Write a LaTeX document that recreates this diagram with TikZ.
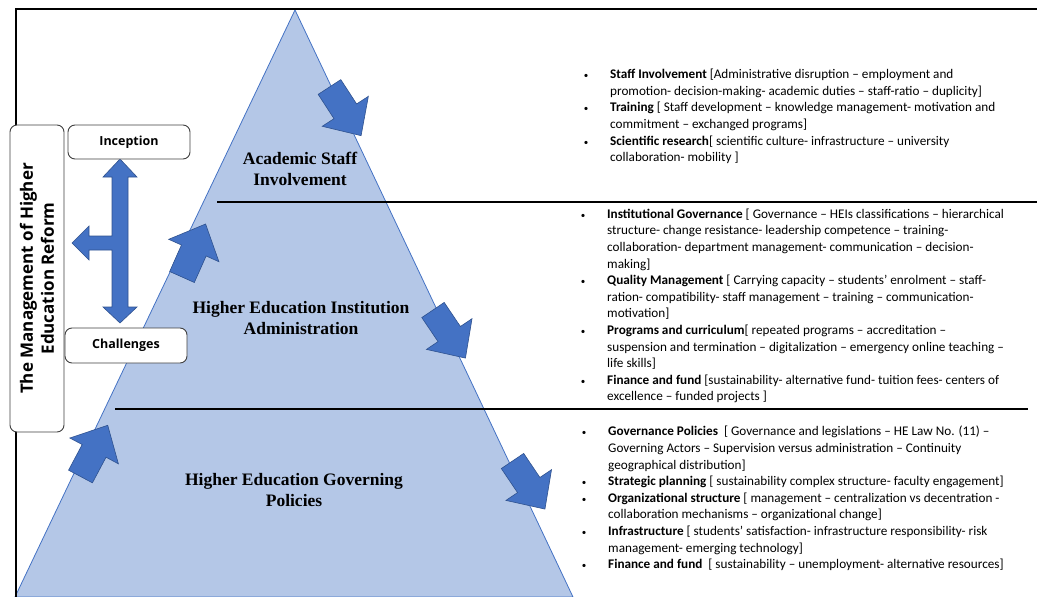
\documentclass[tikz,border=0pt]{standalone}
\usepackage{fontspec}
\setmainfont{Carlito}
\newfontfamily\layerfont{Liberation Serif}
\newfontfamily\boxfont{Open Sans}
\usepackage{tikz}
\usetikzlibrary{positioning}

\definecolor{layerfill}{HTML}{B4C7E7}
\definecolor{officeblue}{HTML}{4472C4}
\definecolor{arrowedge}{HTML}{2F528F}

\tikzstyle{frameline} = [line width=1.5pt, black]
\tikzstyle{divider} = [line width=1.4pt, black]
\tikzstyle{labelbox} = [rectangle, rounded corners=7pt, draw=black!75, line
width=0.9pt, fill=white, inner sep=0pt, text centered,
font=\boxfont\bfseries\fontsize{12.5}{15}\selectfont]
\tikzstyle{layer} = [align=center,
font=\layerfont\bfseries\fontsize{17.5}{21}\selectfont]
\tikzstyle{infotext} = [anchor=north west, inner sep=0pt,
font=\fontsize{13.2}{16.6}\selectfont]
\tikzstyle{bluefill} = [fill=officeblue, draw=arrowedge, line width=0.6pt]

\tikzset{
  blockarrow/.pic={
    \path[bluefill] (0,-13.5) -- (29,-13.5) -- (29,-27.5) -- (58,0)
      -- (29,27.5) -- (29,13.5) -- (0,13.5) -- cycle;
  }
}

\newcommand{\bul}{\makebox[24pt][l]{\makebox[0pt]{\fontsize{9}{9}\selectfont •}}}

\begin{document}
\begin{tikzpicture}[x=1pt, y=-1pt]
\useasboundingbox (0,0) rectangle (1037,597);

% the pyramid
\path[fill=layerfill, draw=officeblue, line width=0.8pt]
  (295,10) -- (573,597) -- (15,597) -- cycle;

\draw[frameline] (1037,9) -- (16,9) -- (16,597);
\draw[divider] (217,202) -- (1037,202);
\draw[divider] (115,409) -- (1028,409);

\node[layer] (topname) at (300,169) {Academic Staff\\Involvement};
\node[layer] (midname) at (301,318.5) {Higher Education Institution\\Administration};
\node[layer] (basename) at (294,490.5) {Higher Education Governing\\Policies};

% block arrows along the sides
\pic[rotate=-57] at (329.5,87) {blockarrow};
\pic[rotate=66] at (182,277) {blockarrow};
\pic[rotate=-56] at (433,310) {blockarrow};
\pic[rotate=62] at (80.5,476.5) {blockarrow};
\pic[rotate=-56] at (512.5,461) {blockarrow};

% three way arrow between the boxes
\path[bluefill] (120,159) -- (137,177) -- (128,177) -- (128,307) -- (137,307)
  -- (120,323) -- (103,307) -- (112,307) -- (112,250) -- (89,250) -- (89,260)
  -- (72,243) -- (89,226) -- (89,236) -- (112,236) -- (112,177) -- (103,177)
  -- cycle;

\node(reform)[labelbox, minimum width=307pt, minimum height=54pt, rotate=90,
  align=center, font=\boxfont\bfseries\fontsize{17}{21}\selectfont]
  at (37,278.5) {The Management of Higher\\Education Reform};
\node(inception)[labelbox, minimum width=122pt, minimum height=34pt]
  at (129,142) {Inception};
\node(challenges)[labelbox, minimum width=122pt, minimum height=35pt]
  at (126,345.5) {Challenges};

\node(staffinfo)[infotext] at (586,66.9) {%
\begin{tabular}{@{}l@{}l@{}}
\bul & \textbf{Staff Involvement} [Administrative disruption – employment and\\
 & promotion- decision-making- academic duties – staff-ratio – duplicity]\\
\bul & \textbf{Training} [ Staff development – knowledge management- motivation and\\
 & commitment – exchanged programs]\\
\bul & \textbf{Scientific research}[ scientific culture- infrastructure – university\\
 & collaboration- mobility ]
\end{tabular}};

\node(admininfo)[infotext] at (583,206.4) {%
\begin{tabular}{@{}l@{}l@{}}
\bul & \textbf{Institutional Governance} [ Governance – HEIs classifications – hierarchical\\
 & structure- change resistance- leadership competence – training-\\
 & collaboration- department management- communication – decision-\\
 & making]\\
\bul & \textbf{Quality Management} [ Carrying capacity – students’ enrolment – staff-\\
 & ration- compatibility- staff management – training – communication-\\
 & motivation]\\
\bul & \textbf{Programs and curriculum}[ repeated programs – accreditation –\\
 & suspension and termination – digitalization – emergency online teaching –\\
 & life skills]\\
\bul & \textbf{Finance and fund} [sustainability- alternative fund- tuition fees- centers of\\
 & excellence – funded projects ]
\end{tabular}};

\node(policyinfo)[infotext] at (584,424) {%
\begin{tabular}{@{}l@{}l@{}}
\bul & \textbf{Governance Policies}\ \ [ Governance and legislations – HE Law No. (11) –\\
 & Governing Actors – Supervision versus administration – Continuity\\
 & geographical distribution]\\
\bul & \textbf{Strategic planning} [ sustainability complex structure- faculty engagement]\\
\bul & \textbf{Organizational structure} [ management – centralization vs decentration -\\
 & collaboration mechanisms – organizational change]\\
\bul & \textbf{Infrastructure} [ students’ satisfaction- infrastructure responsibility- risk\\
 & management- emerging technology]\\
\bul & \textbf{Finance and fund}\ \ [ sustainability – unemployment- alternative resources]
\end{tabular}};

\end{tikzpicture}
\end{document}
